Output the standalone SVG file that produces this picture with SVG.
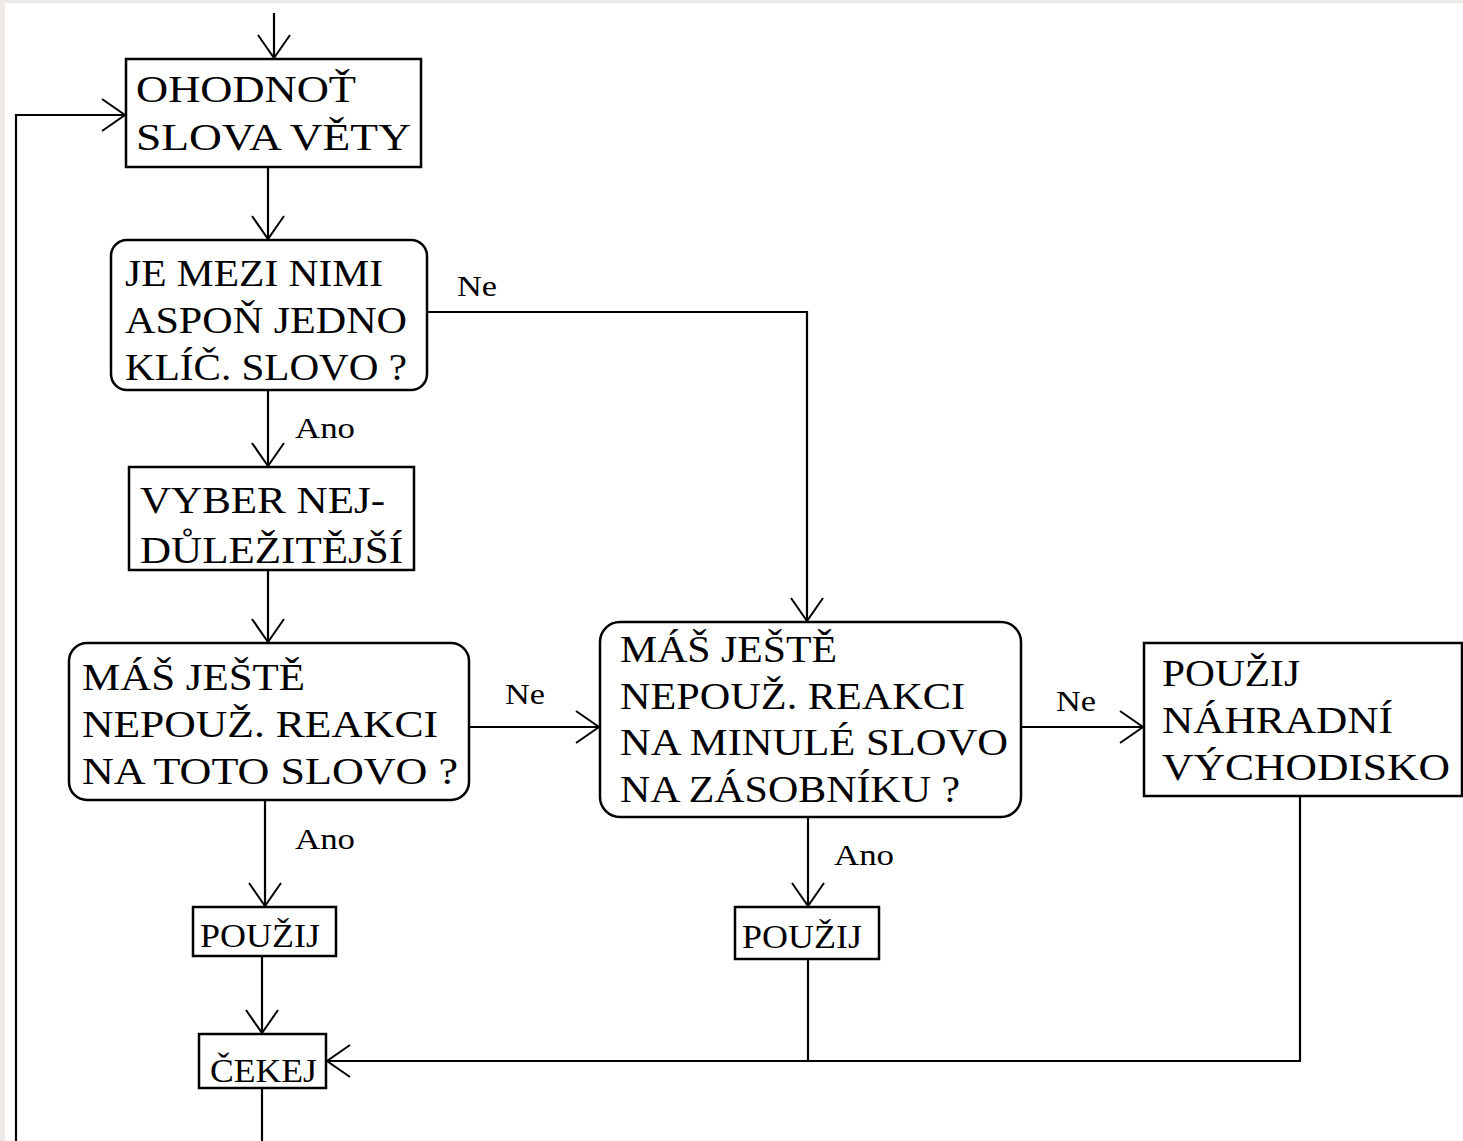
<svg xmlns="http://www.w3.org/2000/svg" width="1463" height="1141" viewBox="0 0 1463 1141">
<defs>
<style>
.box{fill:#fff;stroke:#000;stroke-width:2.5}
.t{font-family:"Liberation Serif","Times New Roman",serif;font-size:38px;fill:#000}
.l{font-family:"Liberation Serif","Times New Roman",serif;font-size:30px;fill:#000}
.c{fill:none;stroke:#000;stroke-width:2.2}
</style>
<marker id="ah" markerUnits="userSpaceOnUse" markerWidth="30" markerHeight="40" refX="24" refY="17" orient="auto" viewBox="0 0 30 34">
<path d="M1,1 L24,17 L1,33" fill="none" stroke="#000" stroke-width="2"/>
</marker>
</defs>
<rect x="0" y="0" width="1463" height="1141" fill="#ece9e6"/>
<rect x="5" y="3" width="1458" height="1138" fill="#fff"/>

<g id="connectors">
<path class="c" d="M274,13 V58" marker-end="url(#ah)"/>
<path class="c" d="M16,1141 V115 H125" marker-end="url(#ah)"/>
<path class="c" d="M268,168 V239" marker-end="url(#ah)"/>
<path class="c" d="M268,391 V466" marker-end="url(#ah)"/>
<path class="c" d="M428,312 H807 V621" marker-end="url(#ah)"/>
<path class="c" d="M268,571 V642" marker-end="url(#ah)"/>
<path class="c" d="M470,727 H599" marker-end="url(#ah)"/>
<path class="c" d="M1021,727 H1143" marker-end="url(#ah)"/>
<path class="c" d="M265,801 V906" marker-end="url(#ah)"/>
<path class="c" d="M808,818 V906" marker-end="url(#ah)"/>
<path class="c" d="M262,957 V1033" marker-end="url(#ah)"/>
<path class="c" d="M808,960 V1061"/>
<path class="c" d="M1300,797 V1061 H327" marker-end="url(#ah)"/>
<path class="c" d="M262,1089 V1141"/>
<text class="l" x="457" y="296" textLength="40" lengthAdjust="spacingAndGlyphs">Ne</text>
<text class="l" x="295" y="438" textLength="60" lengthAdjust="spacingAndGlyphs">Ano</text>
<text class="l" x="505" y="704" textLength="40" lengthAdjust="spacingAndGlyphs">Ne</text>
<text class="l" x="1056" y="711" textLength="40" lengthAdjust="spacingAndGlyphs">Ne</text>
<text class="l" x="295" y="849" textLength="60" lengthAdjust="spacingAndGlyphs">Ano</text>
<text class="l" x="834" y="865" textLength="60" lengthAdjust="spacingAndGlyphs">Ano</text>
</g>

<g id="n1">
<rect class="box" x="126" y="59" width="295" height="108"/>
<text class="t" x="136" y="102" textLength="220" lengthAdjust="spacingAndGlyphs">OHODNOŤ</text>
<text class="t" x="136" y="150" textLength="275" lengthAdjust="spacingAndGlyphs">SLOVA VĚTY</text>
</g>

<g id="n2">
<rect class="box" x="111" y="240" width="316" height="150" rx="16"/>
<text class="t" x="125" y="286" textLength="258" lengthAdjust="spacingAndGlyphs">JE MEZI NIMI</text>
<text class="t" x="125" y="333" textLength="282" lengthAdjust="spacingAndGlyphs">ASPOŇ JEDNO</text>
<text class="t" x="125" y="380" textLength="282" lengthAdjust="spacingAndGlyphs">KLÍČ. SLOVO ?</text>
</g>

<g id="n3">
<rect class="box" x="129" y="467" width="285" height="103"/>
<text class="t" x="140" y="513" textLength="245" lengthAdjust="spacingAndGlyphs">VYBER NEJ-</text>
<text class="t" x="140" y="563" textLength="263" lengthAdjust="spacingAndGlyphs">DŮLEŽITĚJŠÍ</text>
</g>

<g id="n4">
<rect class="box" x="69" y="643" width="400" height="157" rx="18"/>
<text class="t" x="82" y="690" textLength="223" lengthAdjust="spacingAndGlyphs">MÁŠ JEŠTĚ</text>
<text class="t" x="82" y="737" textLength="356" lengthAdjust="spacingAndGlyphs">NEPOUŽ. REAKCI</text>
<text class="t" x="82" y="784" textLength="376" lengthAdjust="spacingAndGlyphs">NA TOTO SLOVO ?</text>
</g>

<g id="n5">
<rect class="box" x="600" y="622" width="421" height="195" rx="20"/>
<text class="t" x="620" y="662" textLength="217" lengthAdjust="spacingAndGlyphs">MÁŠ JEŠTĚ</text>
<text class="t" x="620" y="709" textLength="345" lengthAdjust="spacingAndGlyphs">NEPOUŽ. REAKCI</text>
<text class="t" x="620" y="755" textLength="388" lengthAdjust="spacingAndGlyphs">NA MINULÉ SLOVO</text>
<text class="t" x="620" y="802" textLength="340" lengthAdjust="spacingAndGlyphs">NA ZÁSOBNÍKU ?</text>
</g>

<g id="n6">
<rect class="box" x="1144" y="643" width="318" height="153"/>
<text class="t" x="1162" y="686" textLength="138" lengthAdjust="spacingAndGlyphs">POUŽIJ</text>
<text class="t" x="1162" y="733" textLength="231" lengthAdjust="spacingAndGlyphs">NÁHRADNÍ</text>
<text class="t" x="1162" y="780" textLength="288" lengthAdjust="spacingAndGlyphs">VÝCHODISKO</text>
</g>

<g id="n7">
<rect class="box" x="193" y="907" width="143" height="49"/>
<text class="t" x="200" y="947" textLength="120" lengthAdjust="spacingAndGlyphs" style="font-size:34px">POUŽIJ</text>
</g>

<g id="n8">
<rect class="box" x="735" y="907" width="144" height="52"/>
<text class="t" x="742" y="948" textLength="120" lengthAdjust="spacingAndGlyphs" style="font-size:34px">POUŽIJ</text>
</g>

<g id="n9">
<rect class="box" x="199" y="1034" width="127" height="54"/>
<text class="t" x="210" y="1082" textLength="107" lengthAdjust="spacingAndGlyphs" style="font-size:34px">ČEKEJ</text>
</g>
</svg>
